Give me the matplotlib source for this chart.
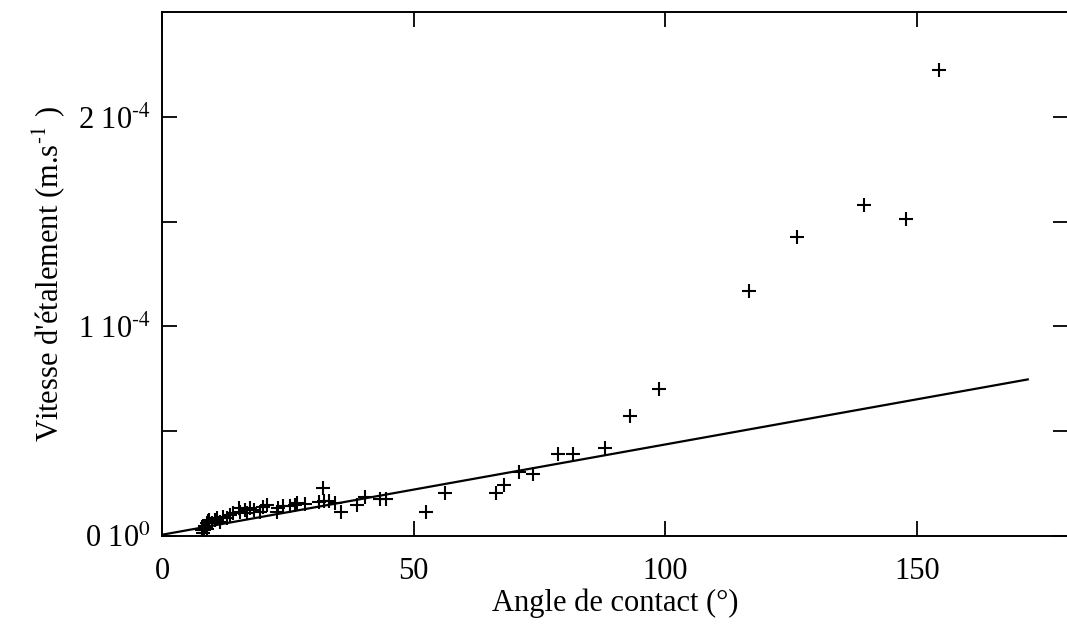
import matplotlib
matplotlib.use("Agg")
import matplotlib.pyplot as plt

plt.rcParams['font.family'] = ['Liberation Serif', 'DejaVu Serif']
plt.rcParams['mathtext.fontset'] = 'stix'

# Measured points: contact angle (deg) and spreading velocity (m/s)
angle = [8.0, 8.2, 8.35, 8.55, 8.6, 8.9, 9.0, 9.2, 9.4, 9.9, 10.5, 10.9, 11.5, 12.2,
         12.9, 13.5, 14.2, 15.2, 15.5, 16.5, 16.8, 17.5, 18.2, 19.5, 20.1, 20.8,
         22.8, 23.1, 24.1, 25.4, 26.4, 26.8, 28.4, 31.1, 31.9, 32.1, 33.1, 34.4,
         35.5, 38.7, 40.4, 43.3, 44.5, 52.5, 56.3, 66.3, 68.0, 71.0, 73.7, 78.6,
         81.6, 88.1, 93.0, 98.8, 116.7, 126.2, 139.4, 147.9, 154.3]
velocity = [3.0e-6, 1.3e-6, 2.9e-6, 4.4e-6, 5.0e-6, 6.0e-6, 3.5e-6, 7.0e-6, 7.6e-6,
            6.0e-6, 7.6e-6, 8.4e-6, 6.8e-6, 9.2e-6, 8.4e-6, 1.0e-5, 1.08e-5, 1.32e-5,
            1.16e-5, 1.24e-5, 1.08e-5, 1.32e-5, 1.24e-5, 1.16e-5, 1.40e-5, 1.48e-5,
            1.16e-5, 1.32e-5, 1.43e-5, 1.43e-5, 1.48e-5, 1.59e-5, 1.53e-5, 1.64e-5,
            2.30e-5, 1.69e-5, 1.69e-5, 1.56e-5, 1.13e-5, 1.48e-5, 1.85e-5, 1.77e-5,
            1.77e-5, 1.16e-5, 2.04e-5, 2.04e-5, 2.43e-5, 3.04e-5, 2.94e-5, 3.91e-5,
            3.91e-5, 4.18e-5, 5.73e-5, 7.01e-5, 1.170e-4, 1.425e-4, 1.579e-4,
            1.511e-4, 2.223e-4]

# Linear fit line
fit_x = [0.0, 172.0]
fit_y = [6.0e-7, 7.47e-5]

x_ticks = [0, 50, 100, 150]
x_tick_labels = ['0', '50', '100', '150']
y_ticks = [0, 0.5e-4, 1e-4, 1.5e-4, 2e-4]
y_tick_labels = [r'0 10$^{\mathrm{0}}$', '', r'1 10$^{\text{-4}}$', '', r'2 10$^{\text{-4}}$']

W, H = 1067, 634
fig = plt.figure(figsize=(W / 100, H / 100), dpi=100)
left, right, top, bottom = 162, 1068, 12, 536
ax = fig.add_axes([left / W, (H - bottom) / H, (right - left) / W, (bottom - top) / H])

ax.plot(angle, velocity, linestyle='none', marker='+', color='black',
        markersize=9.5, markeredgewidth=1.5)
ax.plot(fit_x, fit_y, color='black', linewidth=1.6)

ax.set_xlim(0, 180)
ax.set_ylim(0, 2.5e-4)
ax.set_xticks(x_ticks, labels=x_tick_labels)
ax.set_yticks(y_ticks, labels=y_tick_labels)
ax.tick_params(axis='both', which='major', direction='in', length=11, width=1.3,
               labelsize=22, top=True, right=True)
ax.tick_params(axis='x', pad=15)
ax.tick_params(axis='y', pad=8)
for s in ax.spines.values():
    s.set_linewidth(1.4)

ax.set_xlabel('Angle de contact (°)', fontsize=22, labelpad=2)
ax.set_ylabel(r"Vitesse d'étalement (m.s$^{\text{-1}}$ )", fontsize=22, labelpad=8)

fig.savefig('out.png', dpi=100)
